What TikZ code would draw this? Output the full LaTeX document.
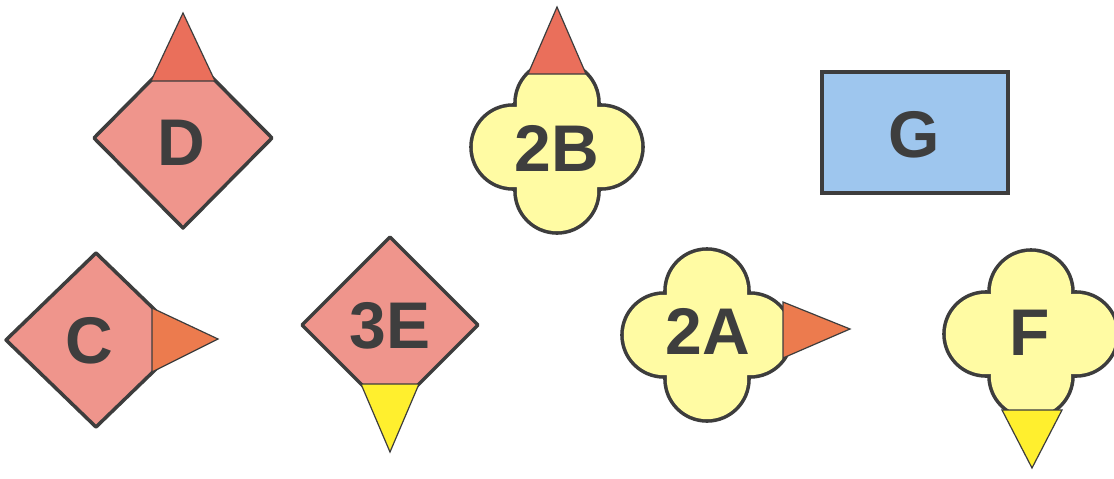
\documentclass[tikz,border=0pt]{standalone}
\usepackage{fontspec}
\setmainfont{Liberation Sans}
\definecolor{edge}{HTML}{3D3D3D}
\definecolor{pinkfill}{HTML}{EF958C}
\definecolor{redtri}{HTML}{EA6F5B}
\definecolor{orangetri}{HTML}{EC7B4E}
\definecolor{yellowtri}{HTML}{FFEF2E}
\definecolor{cloudfill}{HTML}{FFFBA3}
\definecolor{bluefill}{HTML}{9EC6EE}
\definecolor{txtgray}{HTML}{3E3E3E}
\newcommand\qfoil[5]{%
  \fill[edge] ({#1-#3},#2) circle[radius=#5+1.8] ({#1+#3},#2) circle[radius=#5+1.8]
    (#1,{#2-#4}) circle[radius=#5+1.8] (#1,{#2+#4}) circle[radius=#5+1.8];
  \fill[cloudfill] ({#1-#3},#2) circle[radius=#5-1.8] ({#1+#3},#2) circle[radius=#5-1.8]
    (#1,{#2-#4}) circle[radius=#5-1.8] (#1,{#2+#4}) circle[radius=#5-1.8]
    ({#1-#3},#2) -- (#1,{#2-#4}) -- ({#1+#3},#2) -- (#1,{#2+#4}) -- cycle;
}
\newcommand\dmnd[4]{%
  \draw[diam] ({#1-#3},#2) -- (#1,{#2-#4}) -- ({#1+#3},#2) -- (#1,{#2+#4}) -- cycle;
}
\begin{document}
\begin{tikzpicture}[x=1pt,y=-1pt,
  lbl/.style={font=\fontsize{66}{66}\selectfont\bfseries, text=txtgray, inner sep=0pt},
  diam/.style={fill=pinkfill, draw=edge, line width=3.5pt, line join=round},
  tri/.style={draw=edge, line width=1.2pt, line join=miter},
  boxG/.style={fill=bluefill, draw=edge, line width=4pt}]
\useasboundingbox (0,0) rectangle (1114,479);
\fill[white] (0,0) rectangle (1114,479);

% D
\dmnd{183}{138}{89}{90}
\draw[tri, fill=redtri] (151,81) -- (183,13) -- (215,81) -- cycle;
\node[lbl] (D) at (181,143) {D};

% 2B
\qfoil{557}{147}{44}{44}{42}
\draw[tri, fill=redtri] (528,74) -- (557,7) -- (586,74) -- cycle;
\node[lbl] (B2) at (557,148) {2B};

% G
\draw[boxG] (822,72) rectangle (1008,193);
\node[lbl] (G) at (914,135) {G};

% C
\dmnd{96}{340}{90}{87}
\draw[tri, fill=orangetri] (152,308) -- (218,339) -- (152,372) -- cycle;
\node[lbl] (C) at (89,341) {C};

% 3E
\dmnd{390}{325}{88}{88}
\draw[tri, fill=yellowtri] (361,384) -- (390,452) -- (419,384) -- cycle;
\node[lbl] (E3) at (390,326) {3E};

% 2A
\qfoil{707}{335}{43}{44}{42}
\draw[tri, fill=orangetri] (783,302) -- (850,329) -- (783,358) -- cycle;
\node[lbl] (A2) at (708,331) {2A};

% F
\qfoil{1031}{334}{45}{42}{42}
\draw[tri, fill=yellowtri] (1002,410) -- (1032,468) -- (1062,410) -- cycle;
\node[lbl] (F) at (1030,333) {F};
\end{tikzpicture}
\end{document}
